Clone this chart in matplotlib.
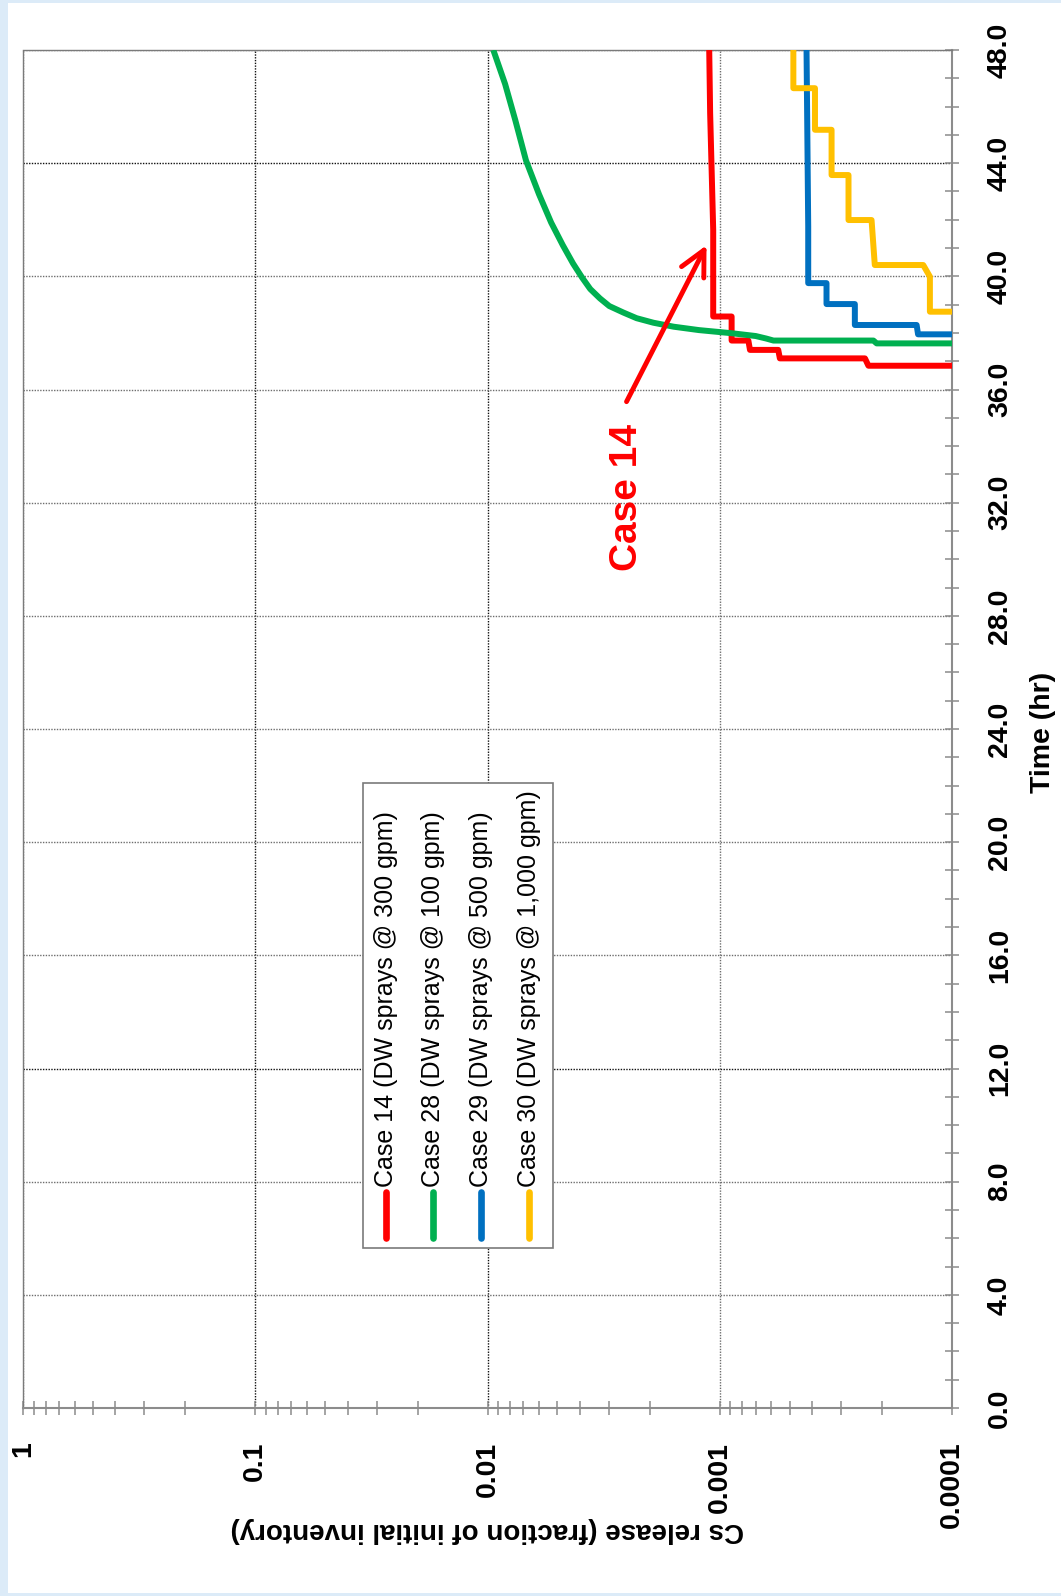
import numpy as np
import matplotlib; matplotlib.use("Agg"); import matplotlib.pyplot as plt
from matplotlib.ticker import FixedLocator, FixedFormatter, LogLocator, MultipleLocator
from matplotlib.patches import Rectangle
from matplotlib.lines import Line2D

plt.rcParams["font.family"] = ["Liberation Sans", "DejaVu Sans"]

W, H = 1061, 1596

# ---- data: time (hr) vs Cs release fraction ----
t14 = [36.84, 36.84, 37.10, 37.10, 37.40, 37.40, 37.73, 37.73, 38.58, 38.58, 41.64, 45.77, 48.0]
v14 = [1.0e-4, 2.29e-4, 2.37e-4, 5.51e-4, 5.60e-4, 7.41e-4, 7.53e-4, 8.89e-4, 8.89e-4, 1.067e-3, 1.067e-3, 1.10e-3, 1.11e-3]

t28 = [37.63, 37.63, 37.73, 37.73, 37.80, 37.89, 37.99, 38.10, 38.22, 38.36, 38.52, 38.72, 38.95,
       39.22, 39.55, 39.95, 40.45, 41.10, 41.90, 42.90, 44.10, 45.50, 46.80, 48.0]
v28 = [1.0e-4, 2.11e-4, 2.18e-4, 5.87e-4, 6.30e-4, 7.00e-4, 8.90e-4, 1.23e-3, 1.58e-3, 1.93e-3, 2.28e-3, 2.60e-3, 2.99e-3,
       3.28e-3, 3.61e-3, 3.91e-3, 4.28e-3, 4.74e-3, 5.32e-3, 6.00e-3, 6.83e-3, 7.58e-3, 8.40e-3, 9.44e-3]

t29 = [37.95, 37.95, 38.28, 38.28, 39.02, 39.02, 39.76, 39.76, 41.76, 48.0]
v29 = [1.0e-4, 1.40e-4, 1.42e-4, 2.62e-4, 2.62e-4, 3.47e-4, 3.47e-4, 4.16e-4, 4.16e-4, 4.23e-4]

t30 = [38.75, 38.75, 39.99, 40.40, 40.40, 41.99, 41.99, 43.58, 43.58, 45.18, 45.18, 46.65, 46.65, 48.0]
v30 = [1.0e-4, 1.245e-4, 1.245e-4, 1.33e-4, 2.15e-4, 2.22e-4, 2.79e-4, 2.79e-4, 3.30e-4, 3.30e-4, 3.89e-4, 3.89e-4, 4.82e-4, 4.82e-4]

series = [
    ("Case 14 (DW sprays @ 300 gpm)", t14, v14, "#ff0000"),
    ("Case 28 (DW sprays @ 100 gpm)", t28, v28, "#00b050"),
    ("Case 29 (DW sprays @ 500 gpm)", t29, v29, "#0070c0"),
    ("Case 30 (DW sprays @ 1,000 gpm)", t30, v30, "#ffc000"),
]

rel_ticks = [1, 0.1, 0.01, 0.001, 0.0001]
rel_labels = ["1", "0.1", "0.01", "0.001", "0.0001"]
time_ticks = np.arange(0, 49, 4)

def fx(px): return px / W
def fy(py): return 1 - py / H

fig = plt.figure(figsize=(W / 100, H / 100), dpi=100, facecolor="#dcebf8")
fig.patches.append(Rectangle((fx(8), fy(1593)), fx(W - 8), (1593 - 3) / H,
                             transform=fig.transFigure, facecolor="white", edgecolor="none", zorder=-10))

ax = fig.add_axes([fx(23), fy(1408), fx(952 - 23), (1408 - 50) / H])
for name, t, v, c in series:
    ax.plot(v, t, color=c, lw=4.3, solid_joinstyle="round", solid_capstyle="butt", zorder=3)

ax.set_xscale("log")
ax.set_xlim(1, 1e-4)
ax.set_ylim(0, 48)
ax.xaxis.set_major_locator(FixedLocator(rel_ticks))
ax.xaxis.set_major_formatter(FixedFormatter(rel_labels))
ax.xaxis.set_minor_locator(LogLocator(base=10, subs=np.arange(2, 10), numticks=20))
ax.xaxis.set_minor_formatter(FixedFormatter([]))
ax.yaxis.tick_right()
ax.set_yticks(time_ticks)
ax.set_yticklabels([f"{t:.1f}" for t in time_ticks])
ax.yaxis.set_minor_locator(MultipleLocator(1))

ax.tick_params(axis="both", which="both", direction="inout", length=10.5, width=1.1, color="#8c8c8c")
ax.tick_params(axis="x", which="major", pad=19, labelsize=20.5, labelrotation=90)
ax.tick_params(axis="y", which="major", pad=20, labelsize=20.5, labelrotation=90)
for lab in ax.get_xticklabels():
    lab.set_fontweight("bold"); lab.set_va("top"); lab.set_ha("center")
for lab in ax.get_yticklabels():
    lab.set_fontweight("bold"); lab.set_va("center"); lab.set_ha("left")

ax.grid(which="major", color="#6e6e6e", linestyle=(0, (1, 1)), linewidth=1.0, zorder=1)
for tk in ax.xaxis.get_major_ticks():
    if tk.get_loc() in (0.1, 0.01):
        tk.gridline.set_color("#111111")
for tk in ax.yaxis.get_major_ticks():
    if tk.get_loc() in (12, 44):
        tk.gridline.set_color("#111111")

for s in ("top", "left"):
    ax.spines[s].set_linestyle((0, (1, 1)))
    ax.spines[s].set_color("#7a7a7a")
    ax.spines[s].set_linewidth(1.0)
for s in ("right", "bottom"):
    ax.spines[s].set_color("#8c8c8c")
    ax.spines[s].set_linewidth(1.5)

ax.set_xlabel("Cs release (fraction of initial inventory)", fontsize=20, fontweight="bold",
              rotation=180, va="center", ha="center")
ax.xaxis.set_label_coords(0.5, -(1530 - 1408) / (1408 - 50))
ax.yaxis.set_label_position("right")
ax.set_ylabel("Time (hr)", fontsize=20.5, fontweight="bold", rotation=90, va="center", ha="center")
ax.yaxis.set_label_coords((1043 - 23) / (952 - 23), (1408 - 732) / (1408 - 50))

# annotation arrow pointing at Case 14
ax.annotate("", xy=(1.14e-3, 41.1), xytext=(2.52e-3, 35.57),
            arrowprops=dict(arrowstyle="->,head_length=0.9,head_width=0.45", color="#ff0000",
                            lw=3.5, mutation_scale=20, shrinkA=0, shrinkB=0), zorder=5)
ax.text(2.51e-3, 32.2, "Case 14", color="#ff0000", fontsize=28, fontweight="bold",
        rotation=90, ha="center", va="center", zorder=5)

# legend drawn by hand (rotated text)
fig.patches.append(Rectangle((fx(363), fy(1248)), fx(552.5 - 363), (1248 - 783) / H,
                             transform=fig.transFigure, facecolor="white", edgecolor="#7a7a7a",
                             lw=1.2, zorder=5))
for (name, t, v, c), lx in zip(series, [386, 432.7, 480.7, 529]):
    fig.lines.append(Line2D([fx(lx), fx(lx)], [fy(1238), fy(1192)], transform=fig.transFigure,
                            color=c, lw=4.8, solid_capstyle="round", zorder=6))
    fig.text(fx(lx), fy(1187), name, rotation=90, ha="center", va="bottom", fontsize=18,
             color="black", zorder=6)

fig.savefig("out.png", dpi=100, facecolor=fig.get_facecolor())
